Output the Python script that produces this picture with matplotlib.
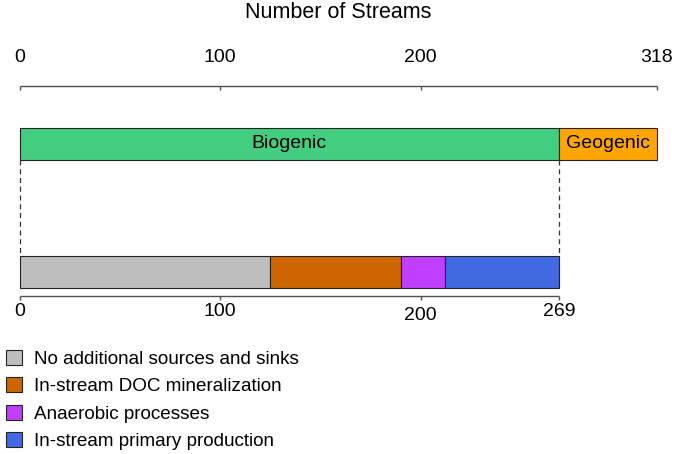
import matplotlib
matplotlib.use("Agg")
import matplotlib.pyplot as plt
from matplotlib.patches import Patch

plt.rcParams['font.family'] = ['Liberation Sans', 'DejaVu Sans']

# Top bar: origin of streams
top_labels = ['Biogenic', 'Geogenic']
top_values = [269, 49]
top_colors = ['#43CD80', '#FFA500']
top_ticks = [0, 100, 200, 318]

# Bottom bar: processes among biogenic streams
bottom_labels = ['No additional sources and sinks', 'In-stream DOC mineralization',
                 'Anaerobic processes', 'In-stream primary production']
bottom_values = [125, 65, 22, 57]
bottom_colors = ['#BEBEBE', '#CD6600', '#BF3EFF', '#4169E1']
bottom_ticks = [0, 100, 200, 269]

fig = plt.figure(figsize=(6.75, 4.54), dpi=100)
ax = fig.add_axes([0, 0, 1, 1])
# x in data units, y in pixel-like units (top = 0)
x0, scale = 20, 2.003
ax.set_xlim(-x0 / scale, (675 - x0) / scale)
ax.set_ylim(454, 0)
ax.axis('off')

axis_col = '#505050'
fs = 14

# title
ax.text(sum(top_values) / 2, 13, 'Number of Streams', ha='center', va='center', fontsize=15.5)

# top axis
ax.hlines(86, 0, sum(top_values), color=axis_col, lw=1)
ax.vlines(top_ticks, 86, 90, color=axis_col, lw=1)
for t in top_ticks:
    ax.text(t, 57, str(t), ha='center', va='center', fontsize=fs)

# top bar
left = 0
for lab, v, c in zip(top_labels, top_values, top_colors):
    ax.barh(144, v, left=left, height=32, color=c, edgecolor='#222222', lw=0.8)
    ax.text(left + v / 2, 144, lab, ha='center', va='center', fontsize=fs)
    left += v

# dashed connectors
ax.vlines([0, top_values[0]], 160, 256, color='#333333', lw=0.9, linestyles=(0, (4, 3)))

# bottom bar
left = 0
for v, c in zip(bottom_values, bottom_colors):
    ax.barh(272, v, left=left, height=32, color=c, edgecolor='#222222', lw=0.8)
    left += v

# bottom axis
ax.hlines(296, 0, sum(bottom_values), color=axis_col, lw=1)
ax.vlines(bottom_ticks, 296, 300, color=axis_col, lw=1)
for t in bottom_ticks:
    yoff = 316 if t == 200 else 311
    ax.text(t, yoff, str(t), ha='center', va='center', fontsize=fs)

# legend
handles = [Patch(facecolor=c, edgecolor='#222222', lw=0.8) for c in bottom_colors]
ax.legend(handles, bottom_labels, loc='upper left', bbox_to_anchor=(-0.002, 0.246),
          frameon=False, fontsize=13.6, handlelength=0.85, handleheight=0.85,
          handletextpad=0.6, labelspacing=0.5, borderaxespad=0)

fig.savefig('out.png', dpi=100)
